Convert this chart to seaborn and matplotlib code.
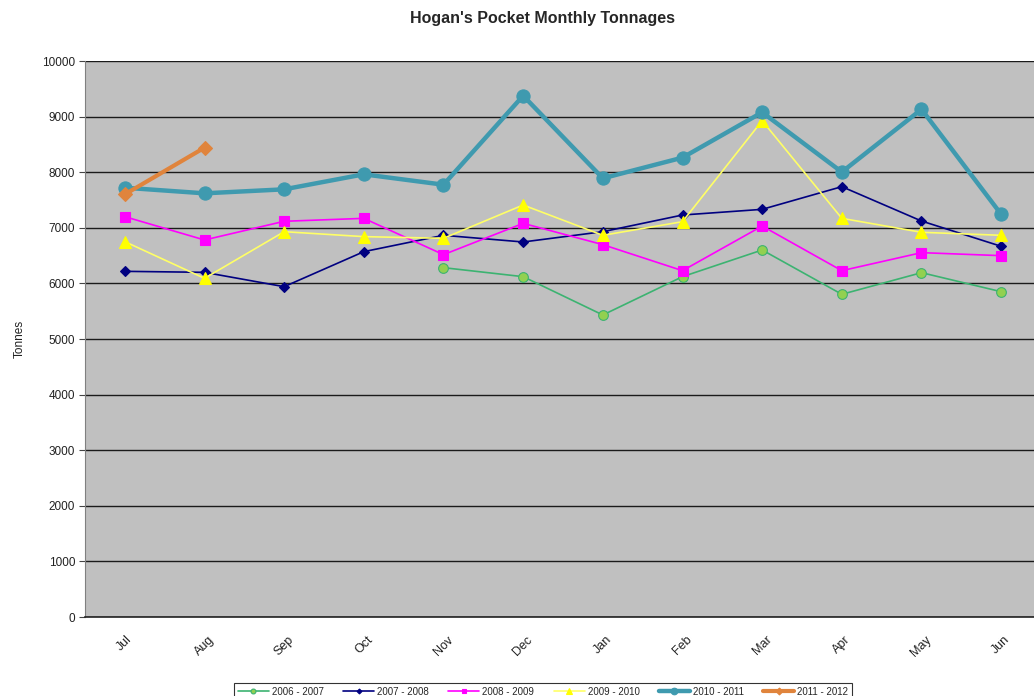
import numpy as np
import pandas as pd
import matplotlib
matplotlib.use("Agg")
import matplotlib.pyplot as plt
import seaborn as sns

months = ["Jul", "Aug", "Sep", "Oct", "Nov", "Dec", "Jan", "Feb", "Mar", "Apr", "May", "Jun"]
seasons = ["2006 - 2007", "2007 - 2008", "2008 - 2009", "2009 - 2010", "2010 - 2011", "2011 - 2012"]

t_2006_2007 = [None, None, None, None, 6283, 6121, 5432, 6121, 6601, 5804, 6193, 5851]
t_2007_2008 = [6217, 6199, 5941, 6571, 6865, 6745, 6930, 7230, 7332, 7740, 7122, 6667]
t_2008_2009 = [7200, 6781, 7117, 7170, 6517, 7080, 6697, 6229, 7032, 6229, 6553, 6499]
t_2009_2010 = [6751, 6091, 6930, 6841, 6811, 7410, 6865, 7110, 8926, 7170, 6919, 6865]
t_2010_2011 = [7721, 7620, 7692, 7962, 7775, 9376, 7890, 8262, 9077, 8003, 9131, 7243]
t_2011_2012 = [7602, 8441, None, None, None, None, None, None, None, None, None, None]

series = [t_2006_2007, t_2007_2008, t_2008_2009, t_2009_2010, t_2010_2011, t_2011_2012]

styles = {
    "2006 - 2007": dict(color="#3CB371", lw=1.2, marker="o", ms=7, mfc="#92D050", mec="#3CB371"),
    "2007 - 2008": dict(color="#000080", lw=1.2, marker="D", ms=5, mfc="#000080", mec="#000080"),
    "2008 - 2009": dict(color="#FF00FF", lw=1.2, marker="s", ms=7, mfc="#FF00FF", mec="#FF00FF"),
    "2009 - 2010": dict(color="#FFFF66", lw=1.2, marker="^", ms=8, mfc="#FFFF00", mec="#FFFF00"),
    "2010 - 2011": dict(color="#3F9AAF", lw=3.2, marker="o", ms=9.5, mfc="#3F9AAF", mec="#3F9AAF"),
    "2011 - 2012": dict(color="#E0843C", lw=3.0, marker="D", ms=7, mfc="#E0843C", mec="#E0843C"),
}

rows = []
for name, vals in zip(seasons, series):
    for i, v in enumerate(vals):
        if v is not None:
            rows.append({"season": name, "pos": i, "tonnes": v})
df = pd.DataFrame(rows)

sns.set_style("white")
plt.rcParams["font.family"] = ["Liberation Sans", "DejaVu Sans"]

fig = plt.figure(figsize=(10.34, 6.96), dpi=100)
ax = fig.add_axes([85 / 1034, 79 / 696, 956 / 1034, 556 / 696])
ax.set_facecolor("#C0C0C0")

for name in seasons:
    st = styles[name]
    sub = df[df["season"] == name]
    sns.lineplot(data=sub, x="pos", y="tonnes", ax=ax, color=st["color"], linewidth=st["lw"],
                 marker=st["marker"], markersize=st["ms"], markerfacecolor=st["mfc"],
                 markeredgecolor=st["mec"], markeredgewidth=0.8, label=name, zorder=3)

ax.set_xlim(-0.5, 11.5)
ax.set_ylim(0, 10000)
ax.set_yticks(np.arange(0, 10001, 1000))
ax.set_xticks(range(len(months)))
ax.set_xticklabels(months, rotation=45, ha="center", fontsize=9, color="#222222")
ax.tick_params(axis="y", labelsize=8.5, labelcolor="#222222", length=4, width=0.8,
               color="#444444", direction="out", left=True, pad=3)
ax.tick_params(axis="x", length=0, pad=12)
ax.yaxis.grid(True, color="#1a1a1a", linewidth=1.0)
ax.set_axisbelow(True)
for s in ["top", "right"]:
    ax.spines[s].set_visible(False)
ax.spines["left"].set_color("#808080")
ax.spines["bottom"].set_color("#222222")
ax.spines["bottom"].set_linewidth(1.2)

ax.set_xlabel("")
ax.set_ylabel("Tonnes", fontsize=8.5, color="#222222", labelpad=12)

fig.text(543 / 1034, 1 - 19 / 696, "Hogan's Pocket Monthly Tonnages", ha="center", va="center",
         fontsize=11.5, fontweight="bold")

if ax.legend_:
    ax.legend_.remove()
handles, labels = ax.get_legend_handles_labels()
leg = fig.legend(handles, labels, loc="upper center", bbox_to_anchor=(543 / 1034, 1 - 678 / 696),
                 ncol=6, fontsize=7, frameon=True, fancybox=False, edgecolor="#000000",
                 handlelength=3.2, columnspacing=2.0, borderpad=0.4, handletextpad=0.3,
                 markerscale=0.5)
leg.get_frame().set_linewidth(0.8)

fig.savefig("out.png", dpi=100)
